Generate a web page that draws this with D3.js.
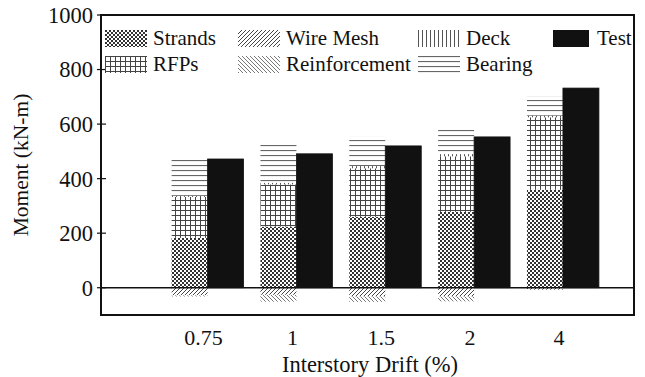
<!DOCTYPE html>
<html>
<head>
<meta charset="utf-8">
<script src="https://cdn.jsdelivr.net/npm/d3@7/dist/d3.min.js"></script>
<style>
  html, body { margin: 0; padding: 0; background: #fff; }
  svg text { font-family: "Liberation Serif", "Times New Roman", serif; fill: #111; }
</style>
</head>
<body>
<svg id="chart" width="645" height="377"></svg>
<script>
// Interstory drift levels (%)
const drifts = ["0.75", "1", "1.5", "2", "4"];

// Moment contributions (kN-m) of each component
const strands       = [183, 224, 260, 278, 359];
const wireMesh      = [-28, -26, -32, -32, -7];
const reinforcement = [-4, -25, -20, -18, 0];
const rfps          = [150, 155, 178, 204, 266];
const deck          = [4, 6, 8, 8, 6];
const bearing       = [140, 140, 108, 90, 72];

// Measured moment from the test
const test = [472, 491, 520, 553, 732];

const yTicks = [0, 200, 400, 600, 800, 1000];

const components = [
  { key: "Strands", values: strands, fill: "url(#p-strands)" },
  { key: "Wire Mesh", values: wireMesh, fill: "url(#p-wire)" },
  { key: "Reinforcement", values: reinforcement, fill: "url(#p-reinf)" },
  { key: "RFPs", values: rfps, fill: "url(#p-rfps)" },
  { key: "Deck", values: deck, fill: "url(#p-deck)" },
  { key: "Bearing", values: bearing, fill: "url(#p-bearing)" }
];

const svg = d3.select("#chart");
const plot = { left: 101, right: 634, top: 15, bottom: 315 };

// Hatch patterns for the components
const defs = svg.append("defs");
function pattern(id, w, h, draw) {
  const p = defs.append("pattern").attr("id", id)
    .attr("patternUnits", "userSpaceOnUse").attr("width", w).attr("height", h);
  p.append("rect").attr("width", w).attr("height", h).attr("fill", "#fff");
  draw(p);
}
pattern("p-strands", 4, 4, p => {
  p.append("rect").attr("x", 0).attr("y", 0).attr("width", 2).attr("height", 2).attr("fill", "#333");
  p.append("rect").attr("x", 2).attr("y", 2).attr("width", 2).attr("height", 2).attr("fill", "#333");
});
pattern("p-rfps", 5, 5, p => {
  p.append("line").attr("x1", 0.5).attr("x2", 0.5).attr("y1", 0).attr("y2", 5).attr("stroke", "#444").attr("stroke-width", 1);
  p.append("line").attr("x1", 0).attr("x2", 5).attr("y1", 0.5).attr("y2", 0.5).attr("stroke", "#444").attr("stroke-width", 1);
});
pattern("p-deck", 4, 4, p => {
  p.append("line").attr("x1", 0.5).attr("x2", 0.5).attr("y1", 0).attr("y2", 4).attr("stroke", "#555").attr("stroke-width", 1);
});
pattern("p-bearing", 5, 5, p => {
  p.append("line").attr("x1", 0).attr("x2", 5).attr("y1", 0.5).attr("y2", 0.5).attr("stroke", "#666").attr("stroke-width", 1.2);
});
pattern("p-wire", 4, 4, p => {
  p.append("path").attr("d", "M-1,1 L1,-1 M0,4 L4,0 M3,5 L5,3").attr("stroke", "#444").attr("stroke-width", 1);
});
pattern("p-reinf", 4, 4, p => {
  p.append("path").attr("d", "M-1,3 L1,5 M0,0 L4,4 M3,-1 L5,1").attr("stroke", "#777").attr("stroke-width", 1);
});

// Scales
const idx = d3.range(drifts.length);
const x = d3.scaleLinear().domain([-1.2, 4.8]).range([plot.left, plot.right]);
const step = x(1) - x(0);
const barW = step * 0.405;
const y = d3.scaleLinear().domain([-100, 1000]).range([plot.bottom, plot.top]);

// Stack components, positives up and negatives down
const table = idx.map(i => {
  const row = { drift: drifts[i] };
  components.forEach(c => { row[c.key] = c.values[i]; });
  return row;
});
const stacked = d3.stack()
  .keys(components.map(c => c.key))
  .offset(d3.stackOffsetDiverging)(table);

const gBars = svg.append("g");
stacked.forEach((layer, li) => {
  gBars.append("g").attr("fill", components[li].fill)
    .selectAll("rect").data(layer).join("rect")
    .attr("x", (d, i) => x(i) - barW)
    .attr("width", barW)
    .attr("y", d => y(Math.max(d[0], d[1])))
    .attr("height", d => Math.abs(y(d[0]) - y(d[1])));
});

// Test bars
gBars.append("g").selectAll("rect").data(test).join("rect")
  .attr("x", (d, i) => x(i))
  .attr("width", barW)
  .attr("y", d => y(d))
  .attr("height", d => y(0) - y(d))
  .attr("fill", "#111")
  .attr("stroke", "#111")
  .attr("stroke-width", 0.8);

// Zero line
svg.append("line")
  .attr("x1", plot.left).attr("x2", plot.right)
  .attr("y1", y(0)).attr("y2", y(0))
  .attr("stroke", "#111").attr("stroke-width", 1.6);

// Y axis ticks and labels
const yAxis = svg.append("g");
yTicks.forEach(t => {
  yAxis.append("line")
    .attr("x1", plot.left - 4).attr("x2", plot.left + 5)
    .attr("y1", y(t)).attr("y2", y(t))
    .attr("stroke", "#111").attr("stroke-width", 1.2);
  yAxis.append("text")
    .attr("x", plot.left - 8).attr("y", y(t))
    .attr("dy", "0.35em")
    .attr("text-anchor", "end")
    .attr("font-size", 22.5)
    .text(t);
});

// X labels
svg.append("g").selectAll("text").data(drifts).join("text")
  .attr("x", (d, i) => x(i) - 4)
  .attr("y", 345)
  .attr("text-anchor", "middle")
  .attr("font-size", 22)
  .text(d => d);

// Frame
svg.append("rect")
  .attr("x", plot.left).attr("y", plot.top)
  .attr("width", plot.right - plot.left).attr("height", plot.bottom - plot.top)
  .attr("fill", "none").attr("stroke", "#111").attr("stroke-width", 2);

// Axis titles
svg.append("text")
  .attr("x", 370).attr("y", 372)
  .attr("text-anchor", "middle").attr("font-size", 22.5)
  .text("Interstory Drift (%)");
svg.append("text")
  .attr("transform", `translate(28,${(plot.top + plot.bottom) / 2}) rotate(-90)`)
  .attr("text-anchor", "middle").attr("font-size", 21.5)
  .text("Moment (kN-m)");

// Legend
const legendItems = [
  { label: "Strands", fill: "url(#p-strands)", col: 0, row: 0 },
  { label: "RFPs", fill: "url(#p-rfps)", col: 0, row: 1 },
  { label: "Wire Mesh", fill: "url(#p-wire)", col: 1, row: 0 },
  { label: "Reinforcement", fill: "url(#p-reinf)", col: 1, row: 1 },
  { label: "Deck", fill: "url(#p-deck)", col: 2, row: 0 },
  { label: "Bearing", fill: "url(#p-bearing)", col: 2, row: 1 },
  { label: "Test", fill: "#111", col: 3, row: 0 }
];
const colX = [105, 238, 418, 553];
const rowY = [30, 56];
const legend = svg.append("g");
legendItems.forEach(it => {
  const g = legend.append("g").attr("transform", `translate(${colX[it.col]},${rowY[it.row]})`);
  g.append("rect").attr("width", it.col === 3 ? 36 : 42).attr("height", 17).attr("fill", it.fill);
  g.append("text").attr("x", it.col === 3 ? 44 : 48).attr("y", 15)
    .attr("font-size", 21).text(it.label);
});
</script>
</body>
</html>
